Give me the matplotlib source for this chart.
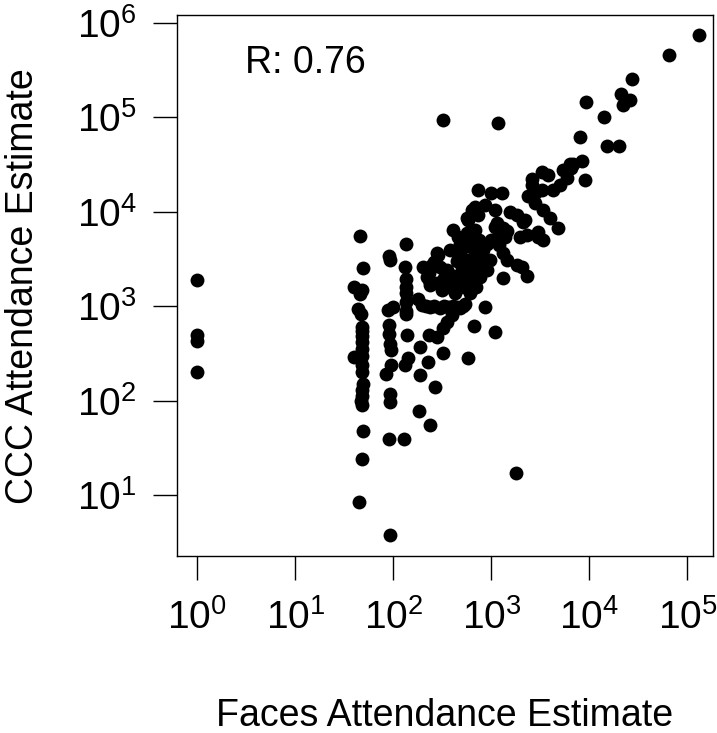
import matplotlib
matplotlib.use("Agg")
import matplotlib.pyplot as plt
from matplotlib.ticker import LogLocator, NullLocator

plt.rcParams['font.family'] = ['Liberation Sans', 'DejaVu Sans']

# Faces vs CCC attendance estimates
faces = [
    # faces == 1
    1, 1, 1, 1,
    # ~50 column
    46, 49, 40, 48, 46, 44, 47, 48, 48, 48, 48, 40, 48, 48, 48, 48, 49, 48, 48, 47, 48, 49, 48, 45,
    # ~90-100 column
    91, 93, 100, 88, 90, 90, 92, 95, 95, 84, 92, 92, 90, 93,
    # ~130 column
    135, 132, 134, 134, 134, 134, 134, 135, 137, 140, 132, 128,
    # lower scatter
    187, 229, 277, 324, 351, 394, 479, 228, 324, 187, 267, 184, 237, 583, 671, 1090, 863, 1790,
    # row near 1000
    180, 195, 215, 237, 260, 300, 330, 365, 410, 444, 518, 540,
    # 1000 - 7000 band
    404, 461, 605, 710, 1100, 1280, 1380,
    379, 288, 246, 229, 229,
    479, 562, 501, 603,
    830, 977, 1320, 1450,
    898, 767, 603,
    1820, 1320,
    277, 312, 380, 461, 603, 427,
    203, 219, 237, 277, 257,
    2040, 2290,
    350, 420, 520, 650, 700, 800, 450, 560, 650, 900, 1000, 1200,
    400, 330, 520, 700, 750, 480, 300, 640, 500, 700,
    # 5000 - 35000 band
    738, 1000, 1280,
    631, 738, 583,
    863, 1100,
    1550, 1820, 2210,
    2390, 2790, 3390, 3980, 4830,
    2570, 2570, 3270, 3800,
    5890, 5010, 4300,
    3270, 2790,
    683, 562, 683, 562, 741,
    1135, 1325, 1175,
    2290, 3020, 3020, 3390,
    5430, 6340,
    2120, 1440, 1960,
    # top
    130700, 64600, 27500, 21000, 26000, 21800, 9300, 14000, 8100, 15200, 20000, 8500, 6770, 6500, 9000,
    # outliers
    320, 1180,
]
ccc = [
    1900, 500, 430, 200,
    5500, 2550, 1600, 1470, 1350, 930, 830, 600, 540, 480, 420, 290, 350, 300, 240, 200, 150, 130, 112, 100, 90, 48, 24, 8.5,
    3400, 3050, 990, 910, 630, 510, 400, 345, 240, 190, 118, 96, 39, 3.8,
    4600, 2600, 1950, 1600, 1380, 1100, 900, 820, 490, 280, 240, 39,
    372, 495, 475, 583, 686, 807, 950, 259, 316, 187, 141, 77, 55, 285, 617, 530, 980, 17,
    1200, 1030, 1000, 990, 1000, 960, 1000, 990, 1000, 980, 1000, 1050,
    6400, 5370, 5680, 5020, 6920, 6400, 5430,
    3940, 3470, 2730, 2230, 1890,
    3780, 3090, 2620, 2840,
    3940, 3090, 3630, 3090,
    2420, 2050, 1820,
    2730, 1970,
    1740, 1480, 1610, 1820, 1370, 1370,
    2620, 2050, 1680, 3630, 2950,
    2620, 2090,
    2400, 2100, 2300, 2500, 3300, 2900, 3000, 4300, 4100, 4600, 5000, 4400,
    1800, 2000, 1600, 1600, 2600, 4500, 2600, 2300, 2000, 2000,
    17000, 15700, 15700,
    10400, 9230, 8170,
    11700, 10400,
    10000, 9230, 8170,
    14500, 12300, 10400, 8510, 6670,
    22000, 19200, 26500, 24400,
    22500, 19200, 17000,
    17000, 15700,
    11300, 8510, 6400, 5890, 5010,
    7530, 6670, 5430,
    5680, 5430, 6150, 5020,
    27600, 32300,
    7850, 6250, 5430,
    743000, 452000, 253000, 177000, 153000, 134000, 146000, 100000, 61200, 50000, 50000, 34400, 31700, 28900, 21500,
    94000, 86000,
]
r_label = "R: 0.76"

fig = plt.figure(figsize=(7.17, 7.33), dpi=100)
ax = fig.add_axes([0.2469, 0.2415, 0.7476, 0.7374])

ax.scatter(faces, ccc, s=100, c='black', linewidths=0)
ax.set_xscale('log')
ax.set_yscale('log')
ax.set_xlim(10 ** -0.207, 10 ** 5.262)
ax.set_ylim(10 ** 0.357, 10 ** 6.076)

for axis in (ax.xaxis, ax.yaxis):
    axis.set_major_locator(LogLocator(base=10, numticks=12))
    axis.set_minor_locator(NullLocator())

for sp in ax.spines.values():
    sp.set_linewidth(1.0)
ax.tick_params(length=17, width=1, labelsize=28, direction='out')
ax.tick_params(axis='x', pad=14)
ax.tick_params(axis='y', pad=12)

ax.set_xlabel('Faces Attendance Estimate', fontsize=27)
ax.xaxis.set_label_coords(0.5, -0.262)
ax.set_ylabel('CCC Attendance Estimate', fontsize=27)
ax.yaxis.set_label_coords(-0.254, 0.5)

ax.text(10 ** 1.105, 10 ** 5.574, r_label, fontsize=27, ha='center', va='center')

fig.savefig('out.png', dpi=100)
